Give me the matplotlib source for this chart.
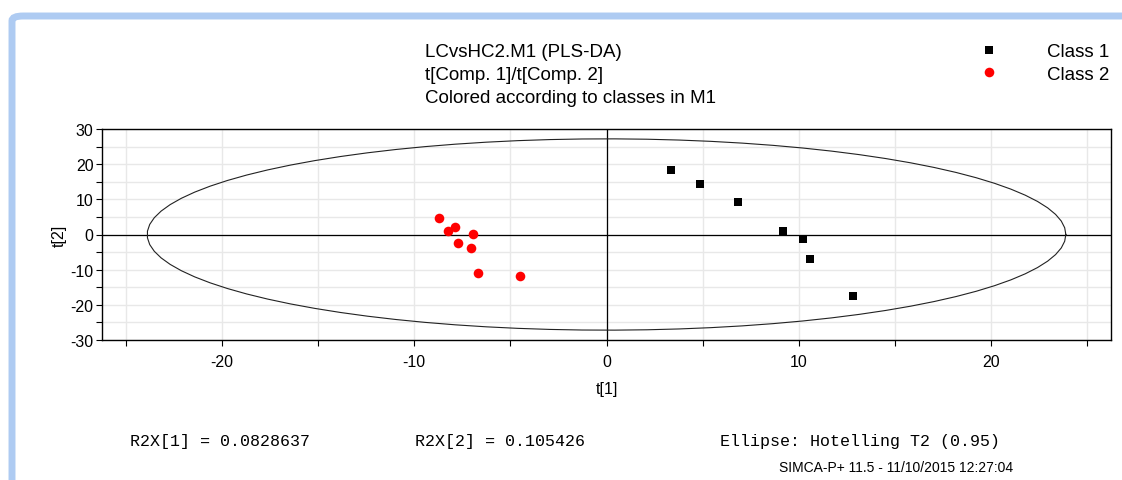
import numpy as np
import matplotlib
matplotlib.use('Agg')
import matplotlib.pyplot as plt
from matplotlib.ticker import MultipleLocator
from matplotlib.patches import FancyBboxPatch

plt.rcParams['font.family'] = ['Liberation Sans', 'DejaVu Sans']
plt.rcParams['axes.unicode_minus'] = False

# score values
class1_t1 = [3.37, 4.88, 6.86, 9.20, 10.24, 10.61, 12.80]
class1_t2 = [18.3, 14.3, 9.23, 0.95, -1.33, -6.86, -17.6]
class2_t1 = [-8.70, -8.26, -7.86, -6.96, -7.72, -7.05, -6.67, -4.48]
class2_t2 = [4.77, 1.05, 2.2, 0.2, -2.37, -3.9, -11.05, -11.8]

# Hotelling T2 ellipse semi-axes
ell_a = 23.9
ell_b = 27.2

title_lines = ['LCvsHC2.M1 (PLS-DA)', 't[Comp. 1]/t[Comp. 2]', 'Colored according to classes in M1']
legend_labels = ['Class 1', 'Class 2']
footer = ['R2X[1] = 0.0828637', 'R2X[2] = 0.105426', 'Ellipse: Hotelling T2 (0.95)']
stamp = 'SIMCA-P+ 11.5 - 11/10/2015 12:27:04'

W, H = 1122, 481
fig = plt.figure(figsize=(W / 100, H / 100), dpi=100)


def fx(px):
    return px / W


def fy(py):
    return 1 - py / H


# blue window frame
frame = FancyBboxPatch((fx(12), fy(530)), fx(1200), fy(17) - fy(530),
                       boxstyle='round,pad=0,rounding_size=0.01',
                       transform=fig.transFigure, facecolor='none',
                       edgecolor='#aecbf2', linewidth=5, zorder=0)
fig.patches.append(frame)

ax = fig.add_axes([fx(102), fy(341), fx(1111) - fx(102), fy(130) - fy(341)])
ax.set_xlim(-26.25, 26.25)
ax.set_ylim(-30, 30)

ax.xaxis.set_major_locator(MultipleLocator(10))
ax.xaxis.set_minor_locator(MultipleLocator(5))
ax.yaxis.set_major_locator(MultipleLocator(10))
ax.yaxis.set_minor_locator(MultipleLocator(5))
ax.grid(True, which='both', color='#e8e8e8', linewidth=1)
ax.set_axisbelow(True)
ax.tick_params(which='both', direction='out', length=4, width=0.8, labelsize=11.5)
ax.tick_params(axis='x', pad=6)
ax.tick_params(axis='y', pad=2)
for s in ax.spines.values():
    s.set_linewidth(1)

ax.axhline(0, color='black', linewidth=0.9, zorder=1)
ax.axvline(0, color='black', linewidth=0.9, zorder=1)

th = np.linspace(0, 2 * np.pi, 90)
ax.plot(ell_a * np.cos(th), ell_b * np.sin(th), color='#222222', linewidth=0.8, zorder=2)

ax.scatter(class1_t1, class1_t2, marker='s', s=38, color='black', linewidths=0, zorder=3)
ax.scatter(class2_t1, class2_t2, marker='o', s=48, color='#ff0000', linewidths=0, zorder=3)

ax.set_xlabel('t[1]', fontsize=11.5, labelpad=9)
ax.set_ylabel('t[2]', fontsize=11.5, labelpad=3)

# title block
for i, line in enumerate(title_lines):
    fig.text(fx(425), fy(57 + 23 * i), line, fontsize=13.5, va='baseline', ha='left')

# legend drawn by hand, like SIMCA does
leg_ax = fig.add_axes([0, 0, 1, 1], facecolor='none')
leg_ax.set_xlim(0, W)
leg_ax.set_ylim(H, 0)
leg_ax.axis('off')
leg_ax.scatter([988.7], [50.7], marker='s', s=38, color='black', linewidths=0)
leg_ax.scatter([988.7], [73.3], marker='o', s=48, color='#ff0000', linewidths=0)
for i, lab in enumerate(legend_labels):
    fig.text(fx(1047), fy(57 + 23 * i), lab, fontsize=13.5, va='baseline', ha='left')

# footer
foot_x = [130, 415, 720]
for x, t in zip(foot_x, footer):
    fig.text(fx(x), fy(446), t, fontsize=12, va='baseline', ha='left',
             family=['Liberation Mono', 'DejaVu Sans Mono'])
fig.text(fx(779), fy(472), stamp, fontsize=10, va='baseline', ha='left',
         family=['Liberation Sans Narrow', 'Liberation Sans'])

fig.savefig('out.png', dpi=100)
